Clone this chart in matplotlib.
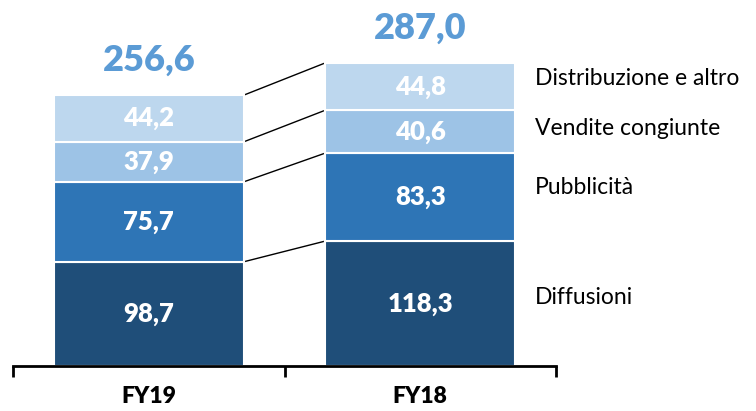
import matplotlib
matplotlib.use("Agg")
import matplotlib.pyplot as plt
import numpy as np

plt.rcParams['font.family'] = ['Lato', 'DejaVu Sans']

categories = ["FY19", "FY18"]
series = ["Diffusioni", "Pubblicità", "Vendite congiunte", "Distribuzione e altro"]
values = {
    "Diffusioni": [98.7, 118.3],
    "Pubblicità": [75.7, 83.3],
    "Vendite congiunte": [37.9, 40.6],
    "Distribuzione e altro": [44.2, 44.8],
}
totals = [256.6, 287.0]
value_labels = {
    "Diffusioni": ["98,7", "118,3"],
    "Pubblicità": ["75,7", "83,3"],
    "Vendite congiunte": ["37,9", "40,6"],
    "Distribuzione e altro": ["44,2", "44,8"],
}
total_labels = ["256,6", "287,0"]
colors = ["#1F4E79", "#2E75B6", "#9DC3E6", "#BDD7EE"]
legend_y = [64.4, 169.5, 225.3, 272.7]

fig = plt.figure(figsize=(7.56, 4.11), dpi=100)
ax = fig.add_axes([13/756, 45/411, (556-13)/756, 366/411])
x = np.array([0.5, 1.5])
width = 0.70
bottom = np.zeros(2)
bounds = [bottom.copy()]
for s, c in zip(series, colors):
    v = np.array(values[s])
    ax.bar(x, v, width, bottom=bottom, color=c, edgecolor="white", linewidth=1.5, zorder=2)
    for i in range(2):
        ax.text(x[i], bottom[i] + v[i] / 2, value_labels[s][i], ha="center", va="center",
                color="white", fontsize=18.5, fontweight="heavy", zorder=3)
    bottom = bottom + v
    bounds.append(bottom.copy())

# connector lines
for b in bounds[1:]:
    ax.plot([x[0] + width / 2, x[1] - width / 2], [b[0], b[1]], color="black", lw=1, zorder=1)

for i in range(2):
    ax.annotate(total_labels[i], (x[i], totals[i]), xytext=(0, 25), textcoords="offset points",
                ha="center", va="center", color="#5B9BD5", fontsize=26, fontweight="heavy")

for s, y in zip(series, legend_y):
    ax.text(1.923, y, s, ha="left", va="center", fontsize=16.5, color="black", clip_on=False)

ax.set_xlim(0, 2)
ax.set_ylim(0, 366 / 1.056)
for sp in ["top", "right", "left"]:
    ax.spines[sp].set_visible(False)
ax.spines["bottom"].set_linewidth(2)
ax.spines["bottom"].set_zorder(4)
ax.set_yticks([])
ax.set_xticks([0, 1, 2])
ax.set_xticklabels([])
ax.tick_params(axis="x", direction="out", length=8, width=2)
for i, c in enumerate(categories):
    ax.text(x[i], -30 / 1.056, c, ha="center", va="center", fontsize=16.5, fontweight="heavy")
fig.savefig("out.png", dpi=100)
